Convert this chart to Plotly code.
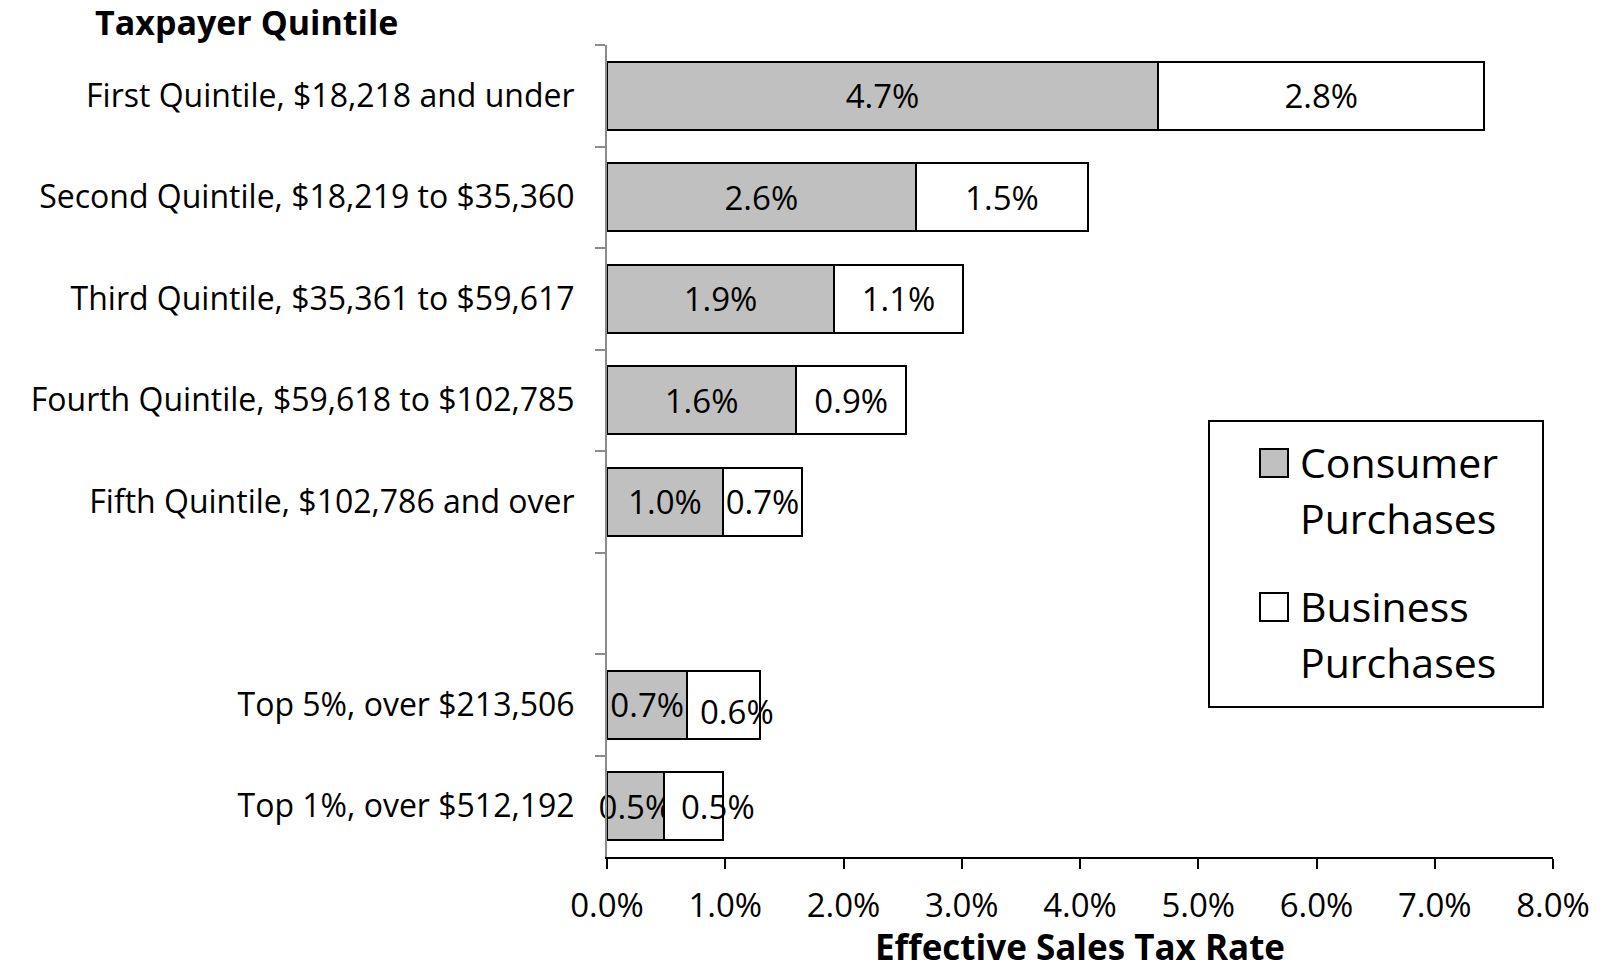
import plotly.graph_objects as go

# Taxpayer groups (top to bottom) and effective sales tax rates, in percent
groups = [
    "First Quintile, $18,218 and under",
    "Second Quintile, $18,219 to $35,360",
    "Third Quintile, $35,361 to $59,617",
    "Fourth Quintile, $59,618 to $102,785",
    "Fifth Quintile, $102,786 and over",
    "Top 5%, over $213,506",
    "Top 1%, over $512,192",
]
consumer = [4.66, 2.61, 1.92, 1.60, 0.98, 0.68, 0.48]
business = [2.76, 1.46, 1.09, 0.93, 0.67, 0.61, 0.50]
series_names = ["Consumer Purchases", "Business Purchases"]
series_colors = ["#c0c0c0", "#ffffff"]

x_ticks = [0, 1, 2, 3, 4, 5, 6, 7, 8]

# business labels on the narrowest bars are nudged (px) so they don't collide
business_label_nudge = {5: (14, -7), 6: (25, 0)}

# a blank row separates the quintiles from the top-percentile groups
SPACER = " "
gap_after = 5
y_cats = groups[:gap_after] + [SPACER] + groups[gap_after:]
cons_vals = consumer[:gap_after] + [None] + consumer[gap_after:]
bus_vals = business[:gap_after] + [None] + business[gap_after:]
bus_text = [
    "" if (v is None or i - (i > gap_after) in business_label_nudge) else f"{v:.1f}%"
    for i, v in enumerate(bus_vals)
]

FONT = "Open Sans, sans-serif"
BAR_FONT = dict(family=FONT, size=33, color="black")
W, H = 1600, 972
ML, MR, MT, MB = 607, 47, 45, 115
PW, PH = W - ML - MR, H - MT - MB


def px(x):
    return (x - ML) / PW


def py(y):
    return (H - MB - y) / PH


fig = go.Figure()
fig.add_trace(go.Bar(
    name=series_names[0], y=y_cats, x=cons_vals, orientation="h", showlegend=False,
    marker=dict(color=series_colors[0], line=dict(color="black", width=2)),
    texttemplate="%{x:.1f}%", textposition="inside",
    insidetextanchor="middle", textangle=0, constraintext="none",
    insidetextfont=BAR_FONT, cliponaxis=False,
))
fig.add_trace(go.Bar(
    name=series_names[1], y=y_cats, x=bus_vals, orientation="h", showlegend=False,
    marker=dict(color=series_colors[1], line=dict(color="black", width=2)),
    text=bus_text, texttemplate="%{text}", textposition="inside",
    insidetextanchor="middle", textangle=0, constraintext="none",
    insidetextfont=BAR_FONT, cliponaxis=False,
))

annotations = []
for i, (dx, dy) in business_label_nudge.items():
    annotations.append(dict(
        x=consumer[i] + business[i] / 2, y=groups[i], xref="x", yref="y",
        text=f"{business[i]:.1f}%", showarrow=False, xshift=dx, yshift=dy,
        font=BAR_FONT,
    ))

# legend box drawn by hand: squares plus two-line labels
shapes = [dict(type="rect", xref="paper", yref="paper",
               x0=px(1209), x1=px(1543), y0=py(421), y1=py(707),
               line=dict(color="black", width=2), fillcolor="white", layer="above")]
legend_rows = [(449, 462, 518), (593, 606, 662)]
for (sq_top, l1, l2), name, color in zip(legend_rows, series_names, series_colors):
    shapes.append(dict(type="rect", xref="paper", yref="paper",
                       x0=px(1260), x1=px(1288), y0=py(sq_top), y1=py(sq_top + 28),
                       line=dict(color="black", width=2), fillcolor=color, layer="above"))
    for text, yc in zip(name.split(" "), (l1, l2)):
        annotations.append(dict(
            text=text, xref="paper", yref="paper", x=px(1298), y=py(yc),
            xanchor="left", yanchor="middle", showarrow=False,
            font=dict(family=FONT, size=41, color="black"),
        ))

# chart and axis titles
annotations.append(dict(
    text="<b>Taxpayer Quintile</b>", xref="paper", yref="paper",
    x=px(93), y=py(22), xanchor="left", yanchor="middle",
    showarrow=False, font=dict(family=FONT, size=34, color="black"),
))
annotations.append(dict(
    text="<b>Effective Sales Tax Rate</b>", xref="paper", yref="paper",
    x=0.5, y=py(947), xanchor="center", yanchor="middle",
    showarrow=False, font=dict(family=FONT, size=35, color="black"),
))

fig.update_layout(
    barmode="stack",
    bargap=0.33,
    width=W, height=H,
    margin=dict(l=ML, r=MR, t=MT, b=MB, autoexpand=False),
    paper_bgcolor="white", plot_bgcolor="white",
    font=dict(family=FONT, size=32, color="black"),
    showlegend=False,
    xaxis=dict(
        range=[0, 8], tickvals=x_ticks,
        ticktext=[f"{v:.1f}%" for v in x_ticks],
        showgrid=False, zeroline=False, automargin=False,
        showline=True, linecolor="black", linewidth=2,
        ticks="outside", ticklen=10, tickwidth=2, tickcolor="black",
        ticklabelstandoff=8,
        tickfont=dict(family=FONT, size=33),
    ),
    yaxis=dict(
        type="category", categoryorder="array", categoryarray=y_cats,
        autorange="reversed", automargin=False,
        showgrid=False, zeroline=False,
        showline=True, linecolor="#8c8c8c", linewidth=2,
        ticks="outside", tickson="boundaries", ticklen=10, tickwidth=2,
        tickcolor="#8c8c8c",
        ticklabelstandoff=24,
        tickfont=dict(family=FONT, size=32),
    ),
    shapes=shapes,
    annotations=annotations,
)

fig.write_html("out.html")
